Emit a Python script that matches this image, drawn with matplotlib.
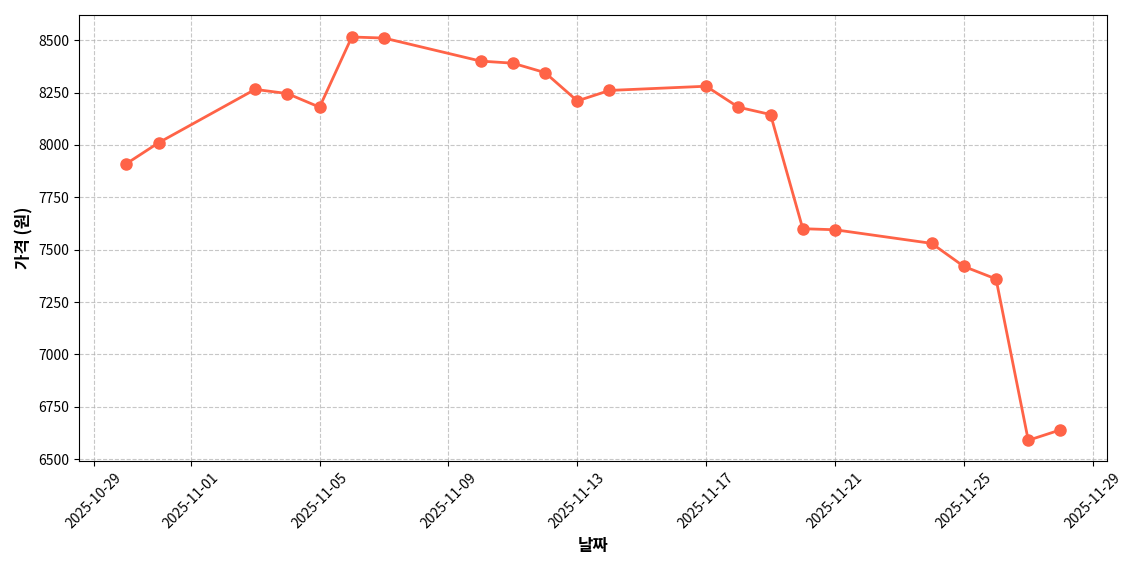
import matplotlib
matplotlib.use('Agg')
import matplotlib.pyplot as plt
import matplotlib.dates as mdates
import pandas as pd

plt.rcParams['font.family'] = ['Noto Sans CJK KR', 'DejaVu Sans']

dates = ['2025-10-30', '2025-10-31', '2025-11-03', '2025-11-04', '2025-11-05',
         '2025-11-06', '2025-11-07', '2025-11-10', '2025-11-11', '2025-11-12',
         '2025-11-13', '2025-11-14', '2025-11-17', '2025-11-18', '2025-11-19',
         '2025-11-20', '2025-11-21', '2025-11-24', '2025-11-25', '2025-11-26',
         '2025-11-27', '2025-11-28']
prices = [7910, 8010, 8265, 8245, 8180, 8515, 8510, 8400, 8390, 8345,
          8210, 8260, 8280, 8180, 8145, 7600, 7595, 7530, 7420, 7360,
          6590, 6640]

x = pd.to_datetime(dates)

fig, ax = plt.subplots(figsize=(11.4, 5.7), dpi=100)
ax.plot(x, prices, color='#FF6347', linewidth=2, marker='o', markersize=8)
ax.set_xlabel('날짜', fontsize=12, fontweight='bold')
ax.set_ylabel('가격 (원)', fontsize=12, fontweight='bold')
ax.grid(True, linestyle='--', alpha=0.7)
ax.xaxis.set_major_locator(mdates.DayLocator(bymonthday=[1, 5, 9, 13, 17, 21, 25, 29]))
ax.xaxis.set_major_formatter(mdates.DateFormatter('%Y-%m-%d'))
ax.set_xlim(pd.Timestamp('2025-10-28 13:00'), pd.Timestamp('2025-11-29 11:00'))
ax.set_ylim(6490, 8620)
plt.setp(ax.get_xticklabels(), rotation=45)
plt.tight_layout()
fig.savefig('out.png', dpi=100)
